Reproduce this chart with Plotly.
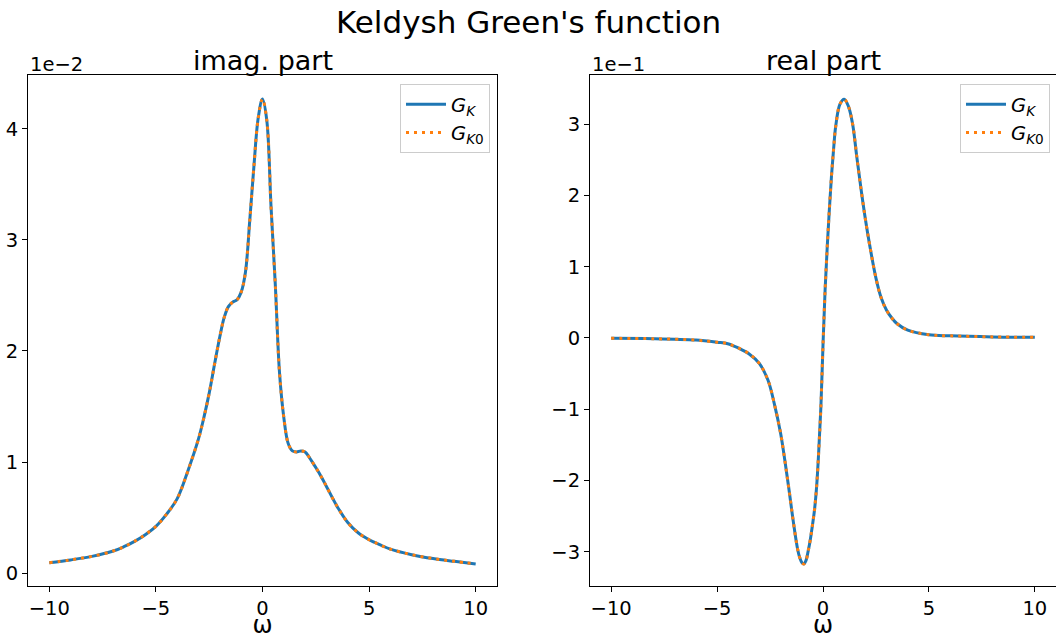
import plotly.graph_objects as go

# ---- data (imag part in units of 1e-2, real part in units of 1e-1)
omega_imag = [-10, -9, -8, -7, -6.5, -6, -5.5, -5, -4.5, -4, -3.5, -3, -2.75, -2.5, -2.25, -2,
              -1.8, -1.6, -1.4, -1.2, -1.0, -0.8, -0.6, -0.4, -0.2, 0, 0.2, 0.4, 0.6, 0.8, 1.0,
              1.2, 1.4, 1.6, 1.8, 2.0, 2.2, 2.5, 2.75, 3.0, 3.5, 4.0, 4.5, 5, 5.5, 6, 7, 8, 9, 10]
imag_gk = [0.093, 0.118, 0.15, 0.198, 0.237, 0.285, 0.345, 0.42, 0.53, 0.67, 0.92, 1.21, 1.40,
           1.62, 1.88, 2.13, 2.30, 2.40, 2.44, 2.46, 2.53, 2.71, 3.17, 3.67, 4.10, 4.27, 4.08,
           3.30, 2.60, 1.80, 1.40, 1.17, 1.10, 1.09, 1.10, 1.09, 1.04, 0.95, 0.87, 0.78, 0.60,
           0.455, 0.36, 0.30, 0.255, 0.215, 0.165, 0.13, 0.105, 0.082]
imag_gk0 = list(imag_gk)

omega_real = [-10, -8, -6, -5, -4.5, -4, -3.5, -3, -2.6, -2.3, -2.0, -1.8, -1.6, -1.4, -1.2,
              -1.1, -1.0, -0.9, -0.8, -0.7, -0.6, -0.5, -0.4, -0.3, -0.2, -0.1, 0, 0.1, 0.2,
              0.3, 0.4, 0.5, 0.6, 0.8, 1.0, 1.2, 1.4, 1.6, 1.8, 2.0, 2.2, 2.5, 2.75, 3.0, 3.25,
              3.5, 4.0, 5, 6, 8, 10]
real_gk = [-0.005, -0.01, -0.03, -0.06, -0.08, -0.14, -0.22, -0.36, -0.59, -0.92, -1.34, -1.72,
           -2.14, -2.58, -2.96, -3.08, -3.15, -3.17, -3.12, -2.99, -2.83, -2.63, -2.41, -2.08,
           -1.58, -0.97, -0.10, 0.68, 1.28, 1.80, 2.27, 2.65, 2.97, 3.28, 3.35, 3.25, 3.00,
           2.53, 2.08, 1.67, 1.31, 0.84, 0.56, 0.39, 0.28, 0.20, 0.11, 0.045, 0.03, 0.015, 0.01]
real_gk0 = list(real_gk)

x_ticks = [-10, -5, 0, 5, 10]
imag_ticks = [0, 1, 2, 3, 4]
real_ticks = [-3, -2, -1, 0, 1, 2, 3]

BLUE = "#1f77b4"
ORANGE = "#ff7f0e"
FONT = "DejaVu Sans"
TICK = 19.5

fig = go.Figure()

name_k = "<i>G</i><sub><i>K</i></sub>"
name_k0 = "<i>G</i><sub><i>K</i>0</sub>"

spl = dict(shape="spline", smoothing=1.0)
fig.add_trace(go.Scatter(x=omega_imag, y=imag_gk, mode="lines", name=name_k,
                         line=dict(color=BLUE, width=3, **spl),
                         xaxis="x", yaxis="y", legend="legend"))
fig.add_trace(go.Scatter(x=omega_imag, y=imag_gk0, mode="lines", name=name_k0,
                         line=dict(color=ORANGE, width=3, dash="3px,5px", **spl),
                         xaxis="x", yaxis="y", legend="legend"))
fig.add_trace(go.Scatter(x=omega_real, y=real_gk, mode="lines", name=name_k,
                         line=dict(color=BLUE, width=3, **spl),
                         xaxis="x2", yaxis="y2", legend="legend2"))
fig.add_trace(go.Scatter(x=omega_real, y=real_gk0, mode="lines", name=name_k0,
                         line=dict(color=ORANGE, width=3, dash="3px,5px", **spl),
                         xaxis="x2", yaxis="y2", legend="legend2"))

W, H = 1056, 639
ytop = 1 - 75 / H
ybot = 1 - 586 / H
lx0, lx1 = 28 / W, 497 / W
rx0, rx1 = 590 / W, 1.0

axis_common = dict(showline=True, linecolor="black", linewidth=1, mirror=True,
                   ticks="outside", ticklen=5, tickcolor="black", showgrid=False,
                   zeroline=False, automargin=False,
                   tickfont=dict(size=TICK, color="black", family=FONT))

legend_common = dict(y=1 - 84 / H, xanchor="right", yanchor="top",
                     bgcolor="rgba(255,255,255,0.8)", bordercolor="#cccccc", borderwidth=1,
                     font=dict(size=19.5, family=FONT), tracegroupgap=0, itemwidth=40)

fig.update_layout(
    width=W, height=H,
    margin=dict(l=0, r=0, t=0, b=0),
    paper_bgcolor="white", plot_bgcolor="white",
    font=dict(family=FONT, color="black"),
    xaxis=dict(domain=[lx0, lx1], range=[-11, 11], tickvals=x_ticks, anchor="y",
               title=dict(text="ω", font=dict(size=24), standoff=4), **axis_common),
    yaxis=dict(domain=[ybot, ytop], range=[-0.117, 4.486], tickvals=imag_ticks, anchor="x",
               **axis_common),
    xaxis2=dict(domain=[rx0, rx1], range=[-11, 11], tickvals=x_ticks, anchor="y2",
                title=dict(text="ω", font=dict(size=24), standoff=4), **axis_common),
    yaxis2=dict(domain=[ybot, ytop], range=[-3.48, 3.69], tickvals=real_ticks, anchor="x2",
                **axis_common),
    legend=dict(x=490 / W, **legend_common),
    legend2=dict(x=1050 / W, **legend_common),
    annotations=[
        dict(text="Keldysh Green's function", x=0.5, y=1 - 22 / H, xref="paper", yref="paper",
             xanchor="center", yanchor="middle", showarrow=False, font=dict(size=31)),
        dict(text="imag. part", x=(lx0 + lx1) / 2, y=ytop, xref="paper", yref="paper",
             xanchor="center", yanchor="bottom", showarrow=False, font=dict(size=27), yshift=-3),
        dict(text="real part", x=(rx0 + rx1) / 2, y=ytop, xref="paper", yref="paper",
             xanchor="center", yanchor="bottom", showarrow=False, font=dict(size=27), yshift=-3),
        dict(text="1e−2", x=lx0, y=ytop, xref="paper", yref="paper",
             xanchor="left", yanchor="bottom", showarrow=False, font=dict(size=TICK), yshift=-3),
        dict(text="1e−1", x=rx0, y=ytop, xref="paper", yref="paper",
             xanchor="left", yanchor="bottom", showarrow=False, font=dict(size=TICK), yshift=-3),
    ],
)

fig.write_html("out.html")
